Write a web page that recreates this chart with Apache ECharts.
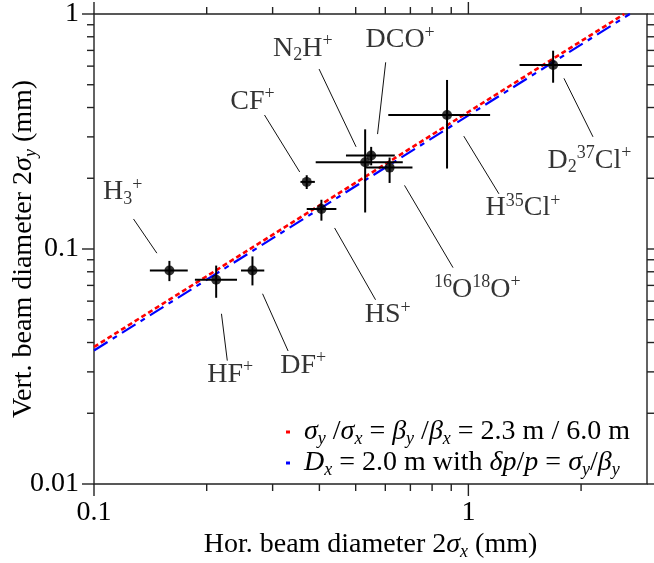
<!DOCTYPE html>
<html><head><meta charset="utf-8">
<script src="https://cdn.jsdelivr.net/npm/echarts@6/dist/echarts.min.js"></script>
<style>html,body{margin:0;padding:0;background:#fff}#c{width:654px;height:563px}</style>
</head><body><div id="c"></div>
<script>
// ---- data ----
const ionLabels = [
  'H{sub|3}{sup|+}', 'HF{sup|+}', 'DF{sup|+}', 'CF{sup|+}', 'HS{sup|+}',
  'N{sub|2}H{sup|+}', 'DCO{sup|+}', '{sup|16}O{sup|18}O{sup|+}', 'H{sup|35}Cl{sup|+}', 'D{sub|2}{sup|37}Cl{sup|+}'
];
const xVal  = [0.159, 0.212, 0.265, 0.370, 0.405, 0.530, 0.550, 0.616, 0.877, 1.684];
const xLow  = [0.141, 0.186, 0.247, 0.356, 0.370, 0.391, 0.471, 0.533, 0.611, 1.370];
const xHigh = [0.178, 0.241, 0.285, 0.389, 0.444, 0.668, 0.636, 0.709, 1.143, 2.010];
const yVal  = [0.081, 0.074, 0.081, 0.193, 0.148, 0.234, 0.250, 0.222, 0.372, 0.607];
const yLow  = [0.073, 0.062, 0.070, 0.180, 0.132, 0.143, 0.227, 0.191, 0.220, 0.510];
const yHigh = [0.089, 0.085, 0.093, 0.206, 0.162, 0.323, 0.272, 0.245, 0.524, 0.698];

const labelX = [0.1193, 0.2310, 0.3620, 0.2650, 0.6090, 0.3613, 0.6572, 1.0568, 1.3993, 2.1051];
const labelY = [0.1748, 0.0292, 0.0320, 0.4233, 0.0524, 0.7145, 0.7750, 0.0673, 0.1496, 0.2384];
const leaderX1 = [0.1275, 0.2190, 0.2820, 0.2854, 0.4392, 0.3992, 0.6013, 0.6752, 0.9721, 1.8000];
const leaderY1 = [0.1342, 0.0530, 0.0645, 0.3717, 0.1229, 0.5831, 0.6229, 0.1865, 0.3022, 0.5325];
const leaderX2 = [0.1472, 0.2270, 0.3300, 0.3544, 0.5650, 0.5012, 0.5720, 0.9100, 1.2067, 2.1521];
const leaderY2 = [0.0960, 0.0335, 0.0368, 0.2127, 0.0608, 0.2722, 0.3083, 0.0833, 0.1717, 0.3001];

const redX = [0.1, 2.61];
const redY = [0.0383, 1];
const blueX = [0.1, 2.70];
const blueY = [0.037, 1];

const xMajor = [0.1, 1];
const xMinor = [0.2, 0.3, 0.4, 0.5, 0.6, 0.7, 0.8, 0.9, 2];
const yMajor = [0.01, 0.1, 1];
const yMinor = [0.02, 0.03, 0.04, 0.05, 0.06, 0.07, 0.08, 0.09, 0.2, 0.3, 0.4, 0.5, 0.6, 0.7, 0.8, 0.9];
const xTickLabels = {'-1': '0.1', '0': '1'};
const yTickLabels = {'-2': '0.01', '-1': '0.1', '0': '1'};

const legendNames = ['ratio', 'disp'];
const legendTexts = {
  ratio: '{i|σ}{is|y}{n| /}{i|σ}{is|x}{n| = }{i|β}{is|y}{n| /}{i|β}{is|x}{n| = 2.3 m / 6.0 m}',
  disp: '{i|D}{is|x}{n| = 2.0 m with }{i|δp}{n|/}{i|p}{n| = }{i|σ}{is|y}{n|/}{i|β}{is|y}'
};

// ---- chart ----
const FF = 'Liberation Serif';
const C = '#000';
const FS = 28;
const SS = 18;
const LH = 32;
const richBase = {
  n: {fontFamily: FF, fontSize: FS, color: C, lineHeight: LH},
  i: {fontFamily: FF, fontSize: FS, color: C, fontStyle: 'italic', lineHeight: LH},
  is: {fontFamily: FF, fontSize: SS, color: C, fontStyle: 'italic', verticalAlign: 'bottom', lineHeight: 17},
  sub: {fontFamily: FF, fontSize: SS, color: C, verticalAlign: 'bottom', lineHeight: 17},
  sup: {fontFamily: FF, fontSize: SS, color: C, verticalAlign: 'top', lineHeight: 17}
};

function logLabel(map) {
  return function (v) {
    const l = Math.log10(v);
    const e = Math.round(l);
    if (Math.abs(l - e) > 1e-6) return '';
    return map[String(e)] || '';
  };
}

const errData = xVal.map((x, i) => [x, yVal[i], xLow[i], xHigh[i], yLow[i], yHigh[i]]);
const leaderData = leaderX1.map((x, i) => [x, leaderY1[i], leaderX2[i], leaderY2[i]]);
const labelData = labelX.map((x, i) => ({value: [x, labelY[i]], label: {formatter: ionLabels[i]}}));
const xTickData = xMajor.map(v => [v, 0.1, 12]).concat(xMinor.map(v => [v, 0.1, 7]));
const yTickData = yMajor.map(v => [0.2, v, 12]).concat(yMinor.map(v => [0.2, v, 7]));
const tickStyle = {stroke: '#222', lineWidth: 1.4};

const chart = echarts.init(document.getElementById('c'), null, {renderer: 'canvas'});
chart.setOption({
  animation: false,
  backgroundColor: '#fff',
  grid: {left: 94, right: 7, top: 14, bottom: 79, containLabel: false, outerBoundsMode: 'none',
         show: true, borderColor: '#222', borderWidth: 1.4, backgroundColor: 'transparent'},
  xAxis: {
    type: 'log', logBase: 10, min: 0.1, max: 3,
    axisLine: {show: false}, axisTick: {show: false}, splitLine: {show: false},
    axisLabel: {fontFamily: FF, fontSize: FS, color: C, margin: 15, showMaxLabel: false, formatter: logLabel(xTickLabels)},
    name: '{n|Hor. beam diameter 2}{i|σ}{is|x}{n| (mm)}', nameLocation: 'middle', nameGap: 45,
    nameMoveOverlap: false,
    nameTextStyle: {rich: richBase}
  },
  yAxis: {
    type: 'log', logBase: 10, min: 0.01, max: 1,
    axisLine: {show: false}, axisTick: {show: false}, splitLine: {show: false},
    axisLabel: {fontFamily: FF, fontSize: FS, color: C, margin: 15, formatter: logLabel(yTickLabels)},
    name: '{n|Vert. beam diameter 2}{i|σ}{is|y}{n| (mm)}', nameLocation: 'middle', nameGap: 54,
    nameMoveOverlap: false,
    nameTextStyle: {rich: richBase}
  },
  legend: {
    data: legendNames, orient: 'vertical', left: 281, top: 413,
    icon: 'rect', itemWidth: 4, itemHeight: 3, itemGap: 1,
    formatter: n => legendTexts[n],
    textStyle: {padding: [0, 0, 0, 9], rich: richBase}
  },
  series: [
    {name: 'ratio', type: 'line', data: redX.map((x, i) => [x, redY[i]]), symbol: 'none',
     lineStyle: {color: '#ff0000', width: 2.6, type: [5, 3]}, itemStyle: {color: '#ff0000'}, z: 2},
    {name: 'disp', type: 'line', data: blueX.map((x, i) => [x, blueY[i]]), symbol: 'none',
     lineStyle: {color: '#0000ff', width: 2.2, type: [16, 6, 5, 6]}, itemStyle: {color: '#0000ff'}, z: 2},
    {type: 'custom', data: leaderData, clip: false, silent: true, z: 3,
     encode: {x: [0, 2], y: [1, 3]},
     renderItem: (params, api) => {
       const a = api.coord([api.value(0), api.value(1)]);
       const b = api.coord([api.value(2), api.value(3)]);
       return {type: 'line', shape: {x1: a[0], y1: a[1], x2: b[0], y2: b[1]}, style: {stroke: '#111', lineWidth: 1}};
     }},
    {type: 'custom', data: errData, silent: true, z: 4,
     encode: {x: [0, 2, 3], y: [1, 4, 5]},
     renderItem: (params, api) => {
       const st = {stroke: '#000', lineWidth: 2};
       const l = api.coord([api.value(2), api.value(1)]);
       const r = api.coord([api.value(3), api.value(1)]);
       const lo = api.coord([api.value(0), api.value(4)]);
       const hi = api.coord([api.value(0), api.value(5)]);
       return {type: 'group', children: [
         {type: 'line', shape: {x1: l[0], y1: l[1], x2: r[0], y2: r[1]}, style: st},
         {type: 'line', shape: {x1: lo[0], y1: lo[1], x2: hi[0], y2: hi[1]}, style: st}
       ]};
     }},
    {type: 'scatter', data: xVal.map((x, i) => [x, yVal[i]]), symbol: 'circle', symbolSize: 10,
     itemStyle: {color: '#000'}, z: 5, silent: true},
    {type: 'scatter', data: labelData, symbolSize: 0, silent: true, z: 6,
     label: {show: true, position: 'inside', fontFamily: FF, fontSize: FS, color: C, lineHeight: LH, rich: richBase}},
    {type: 'custom', data: xTickData, clip: false, silent: true, z: 7,
     renderItem: (params, api) => {
       const cs = params.coordSys;
       const px = api.coord([api.value(0), api.value(1)])[0];
       const len = api.value(2);
       const b = cs.y + cs.height;
       return {type: 'group', children: [
         {type: 'line', shape: {x1: px, y1: b, x2: px, y2: b + len}, style: tickStyle},
         {type: 'line', shape: {x1: px, y1: cs.y, x2: px, y2: cs.y - len}, style: tickStyle}
       ]};
     }},
    {type: 'custom', data: yTickData, clip: false, silent: true, z: 7,
     renderItem: (params, api) => {
       const cs = params.coordSys;
       const py = api.coord([api.value(0), api.value(1)])[1];
       const len = api.value(2);
       const r = cs.x + cs.width;
       return {type: 'group', children: [
         {type: 'line', shape: {x1: cs.x, y1: py, x2: cs.x - len, y2: py}, style: tickStyle},
         {type: 'line', shape: {x1: r, y1: py, x2: r + len, y2: py}, style: tickStyle}
       ]};
     }}
  ]
});
</script></body></html>
